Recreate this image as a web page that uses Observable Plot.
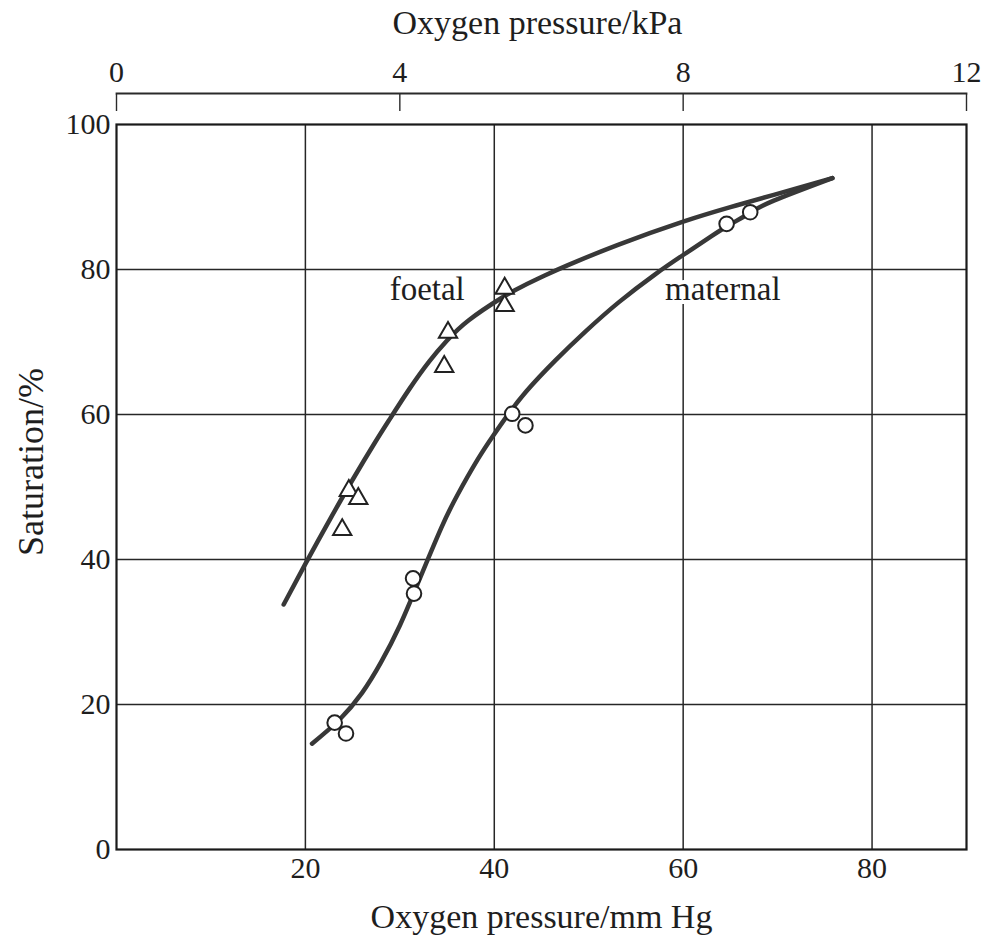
<!DOCTYPE html>
<html>
<head>
<meta charset="utf-8">
<script src="https://cdn.jsdelivr.net/npm/d3@7"></script>
<script src="https://cdn.jsdelivr.net/npm/@observablehq/plot@0.6"></script>
<style>
  html, body { margin: 0; padding: 0; background: #ffffff; }
  #chart svg { display: block; }
</style>
</head>
<body>
<div id="chart"></div>
<script>
// ---- tick values ----
const xGridLines = [20, 40, 60, 80];
const yGridLines = [20, 40, 60, 80];
const xTickLabels = [20, 40, 60, 80];
const yTickLabels = [0, 20, 40, 60, 80, 100];
const kPaTickLabels = [0, 4, 8, 12];
const MMHG_PER_KPA = 7.5;

// ---- titles ----
const topTitle = ["Oxygen pressure/kPa"];
const bottomTitle = ["Oxygen pressure/mm Hg"];
const yTitle = ["Saturation/%"];

// ---- measured points (oxygen pressure mm Hg, saturation %) ----
const foetalPressure   = [24.6, 25.6, 23.9, 35.1, 34.7, 41.1, 41.1];
const foetalSaturation = [49.5, 48.4, 44.1, 71.3, 66.6, 77.4, 75.0];
const maternalPressure   = [23.1, 24.3, 31.4, 31.5, 41.9, 43.3, 64.6, 67.1];
const maternalSaturation = [17.5, 16.0, 37.4, 35.3, 60.1, 58.5, 86.3, 87.9];

// ---- fitted curves ----
const foetalCurvePressure   = [17.7, 20.0, 22.5, 25.0, 27.4, 29.0, 31.0, 33.1, 35.0, 37.3, 40.8, 43.0, 45.4, 47.8, 53.1, 60.0, 65.0, 69.6, 75.8];
const foetalCurveSaturation = [33.8, 39.4, 45.3, 51.0, 56.2, 59.5, 63.5, 67.3, 70.2, 73.0, 76.1, 77.7, 79.2, 80.6, 83.4, 86.6, 88.6, 90.3, 92.6];
const maternalCurvePressure   = [20.7, 23.6, 26.0, 28.0, 30.0, 32.0, 34.4, 36.1, 38.2, 39.9, 41.3, 43.4, 46.5, 49.7, 53.2, 57.0, 60.0, 63.0, 64.7, 67.2, 69.6, 75.8];
const maternalCurveSaturation = [14.6, 17.9, 21.6, 25.8, 30.9, 37.0, 44.4, 48.9, 53.7, 57.1, 59.7, 63.2, 67.5, 71.5, 75.5, 79.3, 82.0, 84.6, 86.0, 87.9, 89.5, 92.6];

// ---- curve labels ----
const curveLabels = ["foetal", "maternal"];
const curveLabelPressure = [32.9, 64.2];
const curveLabelSaturation = [77.3, 77.2];

const zipXY = (xs, ys) => xs.map((x, i) => ({x, y: ys[i]}));
const foetalPts = zipXY(foetalPressure, foetalSaturation);
const maternalPts = zipXY(maternalPressure, maternalSaturation);
const foetalCurve = zipXY(foetalCurvePressure, foetalCurveSaturation);
const maternalCurve = zipXY(maternalCurvePressure, maternalCurveSaturation);
const labelRows = curveLabels.map((t, i) => ({t, x: curveLabelPressure[i], y: curveLabelSaturation[i]}));

const serif = '"Liberation Serif", "DejaVu Serif", "Times New Roman", serif';
const ink = "#1e1e1e";

const chart = Plot.plot({
  width: 983,
  height: 937,
  marginTop: 124,
  marginBottom: 88,
  marginLeft: 116,
  marginRight: 17,
  style: {fontFamily: serif, fontSize: "30px", color: ink, background: "#ffffff"},
  x: {domain: [0, 90]},
  y: {domain: [0, 100]},
  marks: [
    Plot.ruleX(xGridLines, {stroke: "#262626", strokeWidth: 1.5}),
    Plot.ruleY(yGridLines, {stroke: "#262626", strokeWidth: 1.5}),
    Plot.frame({stroke: "#1a1a1a", strokeWidth: 2.2}),
    // top kPa axis line, ticks and labels
    Plot.frame({anchor: "top", dy: -31, stroke: "#2a2a2a", strokeWidth: 1.8}),
    Plot.axisX(kPaTickLabels.map(k => k * MMHG_PER_KPA), {
      anchor: "top", tickSize: 17, fill: "none", dy: -14, stroke: "#2a2a2a", strokeWidth: 1.4, label: null
    }),
    Plot.axisX(kPaTickLabels.map(k => k * MMHG_PER_KPA), {
      anchor: "top", tickSize: 0, tickPadding: 12, dy: -31,
      tickFormat: d => String(Math.round(d / MMHG_PER_KPA)),
      label: null, fontSize: 30
    }),
    Plot.text(topTitle, {frameAnchor: "top", lineAnchor: "bottom", dx: -4, dy: -91, fontSize: 34, fill: ink}),
    // bottom mm Hg axis
    Plot.axisX(xTickLabels, {anchor: "bottom", tickSize: 0, tickPadding: 7, label: null, fontSize: 30}),
    Plot.text(bottomTitle, {frameAnchor: "bottom", lineAnchor: "bottom", dy: 78, fontSize: 34, fill: ink}),
    // left axis
    Plot.axisY(yTickLabels, {anchor: "left", tickSize: 0, tickPadding: 6, label: null, fontSize: 30}),
    Plot.text(yTitle, {
      frameAnchor: "left", textAnchor: "middle", rotate: -90, dx: -85, dy: -25, fontSize: 36, fill: ink
    }),
    // curves
    Plot.line(foetalCurve, {x: "x", y: "y", curve: "natural", stroke: "#383838", strokeWidth: 4.5}),
    Plot.line(maternalCurve, {x: "x", y: "y", curve: "natural", stroke: "#383838", strokeWidth: 4.5}),
    // measured points
    Plot.dot(foetalPts, {x: "x", y: "y", symbol: "triangle", r: 6.8, fill: "#ffffff", stroke: "#222", strokeWidth: 2}),
    Plot.dot(maternalPts, {x: "x", y: "y", r: 7.3, fill: "#ffffff", stroke: "#222", strokeWidth: 2}),
    // curve labels (white halo interrupts the grid behind them)
    Plot.text(labelRows, {x: "x", y: "y", text: "t", fontSize: 33, fill: ink, stroke: "#ffffff", strokeWidth: 8})
  ]
});

document.getElementById("chart").appendChild(chart);
</script>
</body>
</html>
